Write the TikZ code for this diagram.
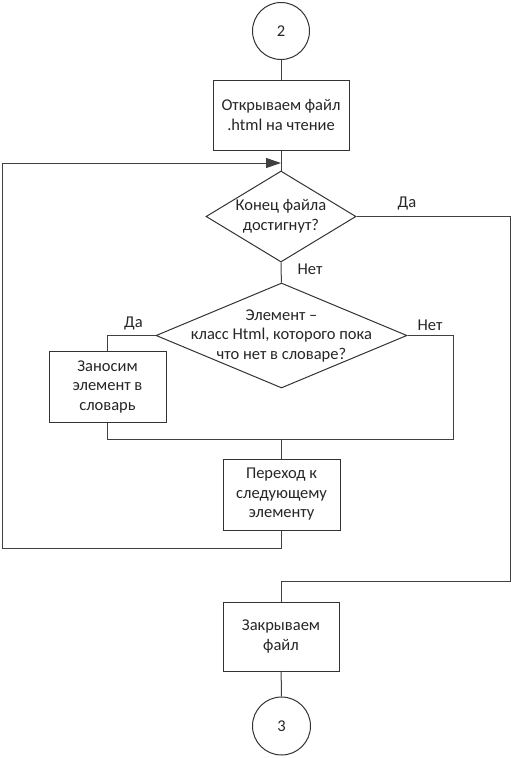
\documentclass[tikz,border=0pt]{standalone}
\usepackage{fontspec}
\setmainfont{Carlito}
\usetikzlibrary{shapes.geometric,arrows.meta}

\begin{document}
\begin{tikzpicture}
            [x=1pt, y=-1pt,
             every node/.style={inner sep=0pt, text=black!85, font=\fontsize{16.5pt}{19.5pt}\selectfont},
             flow/.style={line width=1pt, draw=black!75},
             block/.style={rectangle, draw=black!80, line width=1pt, fill=white, align=center},
             choice/.style={diamond, draw=black!80, line width=1pt, fill=white},
             link/.style={circle, draw=black!80, line width=1pt, fill=white}]
                \useasboundingbox (0, 0) rectangle (511, 758);
                \node (c2) [link, minimum size=57pt] at (281, 31) {2};
                \node (open) [block, minimum width=136pt, minimum height=70pt] at (281, 115) {Открываем файл\\.html на чтение};
                \node (eof) [choice, minimum width=150pt, minimum height=91pt] at (281, 216.5) {};
                \node (eoftext) [align=center] at (eof.center) {Конец файла\\достигнут?};
                \node (elem) [choice, minimum width=251pt, minimum height=105pt] at (281.5, 335.5) {};
                \node (elemtext) [align=center] at (elem.center) {Элемент –\\класс Html, которого пока\\что нет в словаре?};
                \node (add) [block, minimum width=117pt, minimum height=71pt] at (107.5, 386.5) {Заносим\\элемент в\\словарь};
                \node (next) [block, minimum width=117pt, minimum height=71pt] at (281.5, 494.5) {Переход к\\следующему\\элементу};
                \node (close) [block, minimum width=116pt, minimum height=69pt] at (281, 636.5) {Закрываем\\файл};
                \node (c3) [link, minimum size=58pt] at (281.5, 726) {3};
                \coordinate (loopin) at (281, 163);
                \coordinate (merge) at (281.5, 439);
                \draw [flow] (c2) to (open);
                \draw [flow] (open) to (eof);
                \draw [flow] (eof.east) -- (510, 216.5) -- (510, 581) -| (close.north);
                \draw [flow] (eof) to (elem);
                \draw [flow] (elem.west) -| (add.north);
                \draw [flow] (add.south) |- (merge);
                \draw [flow] (elem.east) -| (453, 439) -- (merge);
                \draw [flow] (merge) -- (next.north);
                \draw [flow, -{Triangle[length=15pt, width=10pt]}] (next.south) |- (2, 548) |- (loopin);
                \draw [flow] (close) to (c3);
                \node (yes1) at (407, 203) {Да};
                \node (no1) at (310, 269) {Нет};
                \node (yes2) at (133.5, 323) {Да};
                \node (no2) at (430, 325) {Нет};
            \end{tikzpicture}
\end{document}
